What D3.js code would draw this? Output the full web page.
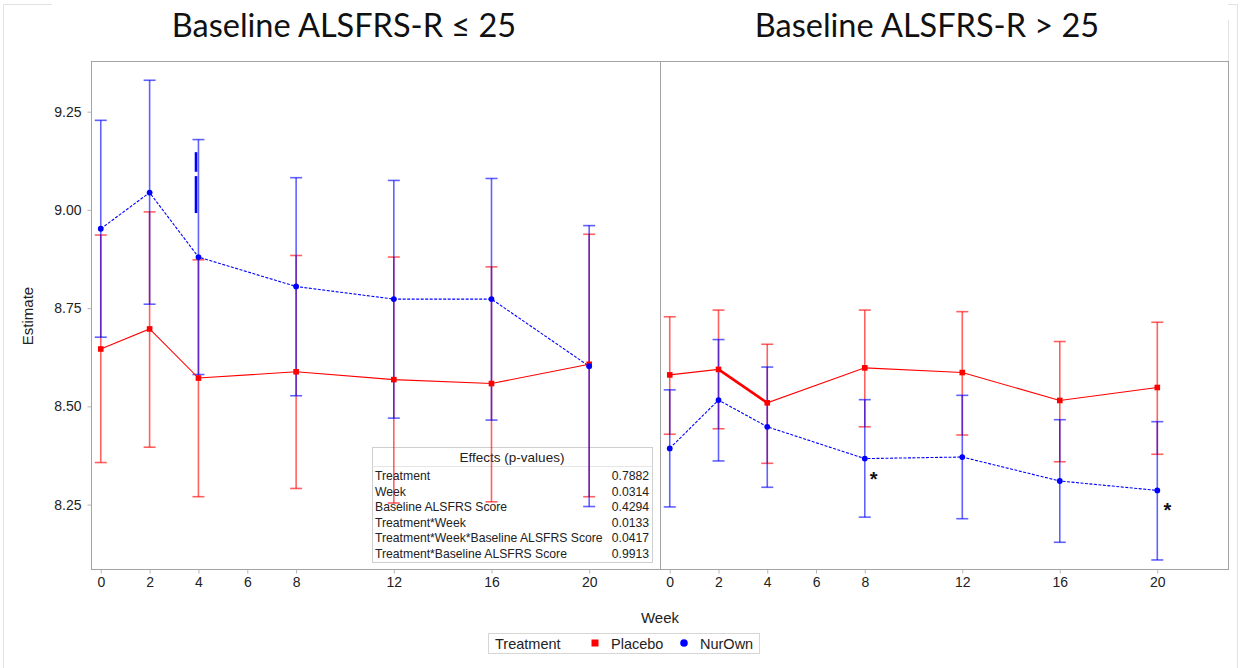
<!DOCTYPE html>
<html>
<head>
<meta charset="utf-8">
<script src="https://cdn.jsdelivr.net/npm/d3@7"></script>
<style>
  html, body { margin: 0; padding: 0; background: #fff; }
  svg { display: block; }
</style>
</head>
<body>
<svg id="chart" width="1245" height="668"></svg>
<script>
// ---------- DATA ----------
const weeks = [0, 2, 4, 8, 12, 16, 20];
const xTickValues = [0, 2, 4, 6, 8, 12, 16, 20];
const yTickValues = [8.25, 8.50, 8.75, 9.00, 9.25];
const panelTitles = ["Baseline ALSFRS-R \u2264 25", "Baseline ALSFRS-R > 25"];

// Panel 1: Baseline ALSFRS-R <= 25
const lowPlaceboEst   = [8.646, 8.697, 8.572, 8.588, 8.568, 8.558, 8.607];
const lowPlaceboUpper = [8.936, 8.995, 8.873, 8.884, 8.880, 8.855, 8.938];
const lowPlaceboLower = [8.357, 8.396, 8.270, 8.291, 8.254, 8.257, 8.270];
const lowNurOwnEst    = [8.952, 9.044, 8.880, 8.805, 8.773, 8.773, 8.602];
const lowNurOwnUpper  = [9.228, 9.330, 9.179, 9.082, 9.075, 9.080, 8.960];
const lowNurOwnLower  = [8.676, 8.760, 8.581, 8.527, 8.470, 8.465, 8.245];

// Panel 2: Baseline ALSFRS-R > 25
const highPlaceboEst   = [8.580, 8.594, 8.509, 8.598, 8.586, 8.515, 8.548];
const highPlaceboUpper = [8.728, 8.745, 8.658, 8.745, 8.741, 8.665, 8.714];
const highPlaceboLower = [8.429, 8.443, 8.355, 8.448, 8.427, 8.359, 8.378];
const highNurOwnEst    = [8.393, 8.516, 8.448, 8.367, 8.371, 8.310, 8.286];
const highNurOwnUpper  = [8.542, 8.670, 8.600, 8.517, 8.528, 8.466, 8.461];
const highNurOwnLower  = [8.244, 8.361, 8.294, 8.218, 8.214, 8.154, 8.109];

// Significance markers (right panel, NurOwn)
const sigWeeks = [8, 20];

// Effects table
const effectNames  = ["Treatment", "Week", "Baseline ALSFRS Score", "Treatment*Week",
                      "Treatment*Week*Baseline ALSFRS Score", "Treatment*Baseline ALSFRS Score"];
const effectPValues = ["0.7882", "0.0314", "0.4294", "0.0133", "0.0417", "0.9913"];

// Legend
const legendTitle = "Treatment";
const treatments = ["Placebo", "NurOwn"];

// Stray editing marks seen in the reference (left panel, near week 4)
const strayWeek = 3.9;
const straySegments = [[9.147, 9.097], [9.086, 8.992]];

// ---------- BUILD ----------
const svg = d3.select("#chart");
const colors = { Placebo: "#ff0000", NurOwn: "#0000ff" };
const fontSans = "'Liberation Sans', Arial, sans-serif";

// Outer slide borders (light)
const outer = svg.append("g").attr("stroke", "#e2e2e2").attr("fill", "none");
outer.append("path").attr("d", "M3.5,668 V4.5 H52");
outer.append("path").attr("d", "M1228,4.5 H1237.5 V668");
outer.append("path").attr("d", "M1228.5,20 V61");

const yScale = d3.scaleLinear().domain([8.086, 9.379]).range([569, 61]);

const panels = [
  { title: panelTitles[0], x0: 91, x1: 660, titleX: 344,
    series: [
      { name: "Placebo", est: lowPlaceboEst, up: lowPlaceboUpper, lo: lowPlaceboLower },
      { name: "NurOwn",  est: lowNurOwnEst,  up: lowNurOwnUpper,  lo: lowNurOwnLower }
    ] },
  { title: panelTitles[1], x0: 660, x1: 1228, titleX: 927,
    series: [
      { name: "Placebo", est: highPlaceboEst, up: highPlaceboUpper, lo: highPlaceboLower },
      { name: "NurOwn",  est: highNurOwnEst,  up: highNurOwnUpper,  lo: highNurOwnLower }
    ] }
];

panels.forEach((p, pi) => {
  const x = d3.scaleLinear().domain([-0.4, 22.9]).range([p.x0, p.x1]);
  p.x = x;
  const g = svg.append("g");

  // Title
  svg.append("text")
    .attr("x", p.titleX).attr("y", 37)
    .attr("text-anchor", "middle")
    .attr("font-family", "Lato, 'Open Sans', sans-serif")
    .attr("font-size", 32.5)
    .attr("fill", "#111")
    .text(p.title);

  // Frame
  g.append("rect")
    .attr("x", p.x0 + 0.5).attr("y", 61.5)
    .attr("width", p.x1 - p.x0).attr("height", 508)
    .attr("fill", "none").attr("stroke", "#a3a3a3");

  // X axis
  const xAxis = d3.axisBottom(x).tickValues(xTickValues).tickSize(4).tickPadding(4)
    .tickFormat(d3.format("d"));
  const xg = g.append("g").attr("transform", "translate(0,569.5)").call(xAxis);
  xg.select(".domain").remove();
  xg.selectAll(".tick line").attr("stroke", "#b5b5b5");
  xg.selectAll(".tick text").attr("font-family", fontSans).attr("font-size", 14).attr("fill", "#222");

  // Y axis (left panel only)
  if (pi === 0) {
    const yAxis = d3.axisLeft(yScale).tickValues(yTickValues).tickSize(4).tickPadding(6)
      .tickFormat(d3.format(".2f"));
    const yg = g.append("g").attr("transform", `translate(${p.x0 + 0.5},0)`).call(yAxis);
    yg.select(".domain").remove();
    yg.selectAll(".tick line").attr("stroke", "#b5b5b5");
    yg.selectAll(".tick text").attr("font-family", fontSans).attr("font-size", 14).attr("fill", "#222");

    // Effects table (inside left panel, beneath the marks)
    const tb = g.append("g");
    tb.append("rect").attr("x", 372.5).attr("y", 447.5).attr("width", 280).attr("height", 115)
      .attr("fill", "none").attr("stroke", "#cfcfcf");
    tb.append("line").attr("x1", 372.5).attr("x2", 652.5).attr("y1", 466.5).attr("y2", 466.5)
      .attr("stroke", "#e6e6e6");
    tb.append("text").attr("x", 512).attr("y", 462).attr("text-anchor", "middle")
      .attr("font-family", fontSans).attr("font-size", 13.5).attr("fill", "#222")
      .text("Effects (p-values)");
    effectNames.forEach((n, i) => {
      const yy = 480 + i * 15.5;
      tb.append("text").attr("x", 375).attr("y", yy)
        .attr("font-family", fontSans).attr("font-size", 12.2).attr("fill", "#222").text(n);
      tb.append("text").attr("x", 649).attr("y", yy).attr("text-anchor", "end")
        .attr("font-family", fontSans).attr("font-size", 12.2).attr("fill", "#222").text(effectPValues[i]);
    });
  }

  // Error bars
  p.series.forEach(s => {
    const eb = g.append("g").attr("stroke", colors[s.name]).attr("stroke-opacity", 0.62)
      .attr("stroke-width", 1.6).attr("fill", "none");
    weeks.forEach((w, i) => {
      const cx = x(w);
      eb.append("line").attr("x1", cx).attr("x2", cx).attr("y1", yScale(s.up[i])).attr("y2", yScale(s.lo[i]));
      eb.append("line").attr("x1", cx - 6).attr("x2", cx + 6).attr("y1", yScale(s.up[i])).attr("y2", yScale(s.up[i]));
      eb.append("line").attr("x1", cx - 6).attr("x2", cx + 6).attr("y1", yScale(s.lo[i])).attr("y2", yScale(s.lo[i]));
    });
  });

  // Lines
  p.series.forEach(s => {
    const line = d3.line().x((d, i) => x(weeks[i])).y(d => yScale(d));
    g.append("path").datum(s.est)
      .attr("d", line)
      .attr("fill", "none")
      .attr("stroke", colors[s.name])
      .attr("stroke-width", 1.1)
      .attr("stroke-dasharray", s.name === "NurOwn" ? "3,1.5" : null);
  });

  // Right panel: heavier placebo segment between week 2 and 4 (as in reference)
  if (pi === 1) {
    const s = p.series[0];
    g.append("line")
      .attr("x1", x(weeks[1])).attr("y1", yScale(s.est[1]))
      .attr("x2", x(weeks[2])).attr("y2", yScale(s.est[2]))
      .attr("stroke", colors.Placebo).attr("stroke-width", 2.6);
  }

  // Markers
  p.series.forEach(s => {
    s.est.forEach((v, i) => {
      if (s.name === "Placebo") {
        g.append("rect").attr("x", x(weeks[i]) - 2.8).attr("y", yScale(v) - 2.8)
          .attr("width", 5.6).attr("height", 5.6).attr("fill", colors.Placebo);
      } else {
        g.append("circle").attr("cx", x(weeks[i])).attr("cy", yScale(v)).attr("r", 2.9)
          .attr("fill", colors.NurOwn);
      }
    });
  });

  // Stray marks (left panel)
  if (pi === 0) {
    straySegments.forEach(seg => {
      g.append("line").attr("x1", x(strayWeek)).attr("x2", x(strayWeek))
        .attr("y1", yScale(seg[0])).attr("y2", yScale(seg[1]))
        .attr("stroke", "#0000ff").attr("stroke-width", 2.6);
    });
  }

  // Significance asterisks (right panel)
  if (pi === 1) {
    sigWeeks.forEach(w => {
      const i = weeks.indexOf(w);
      g.append("text")
        .attr("x", x(w) + (w === 20 ? 10 : 9))
        .attr("y", yScale(p.series[1].est[i]) + 27)
        .attr("text-anchor", "middle")
        .attr("font-family", fontSans).attr("font-size", 20).attr("font-weight", "bold")
        .attr("fill", "#111")
        .text("*");
    });
  }
});

// Axis labels
svg.append("text").attr("x", 660).attr("y", 623).attr("text-anchor", "middle")
  .attr("font-family", fontSans).attr("font-size", 15).attr("fill", "#222").text("Week");
svg.append("text").attr("transform", "translate(33,316) rotate(-90)").attr("text-anchor", "middle")
  .attr("font-family", fontSans).attr("font-size", 15).attr("fill", "#222").text("Estimate");

// Legend
const lg = svg.append("g");
lg.append("rect").attr("x", 488.5).attr("y", 633.5).attr("width", 271).attr("height", 20)
  .attr("fill", "#fff").attr("stroke", "#d6d6d6");
lg.append("text").attr("x", 495).attr("y", 648.5)
  .attr("font-family", fontSans).attr("font-size", 14.5).attr("fill", "#222").text(legendTitle);
const legendX = { Placebo: 595, NurOwn: 684 };
treatments.forEach(t => {
  if (t === "Placebo") {
    lg.append("rect").attr("x", legendX[t] - 3.5).attr("y", 639.5).attr("width", 7).attr("height", 7)
      .attr("fill", colors[t]);
  } else {
    lg.append("circle").attr("cx", legendX[t]).attr("cy", 643).attr("r", 3.8).attr("fill", colors[t]);
  }
  lg.append("text").attr("x", legendX[t] + 16).attr("y", 648.5)
    .attr("font-family", fontSans).attr("font-size", 14.5).attr("fill", "#222").text(t);
});
</script>
</body>
</html>
